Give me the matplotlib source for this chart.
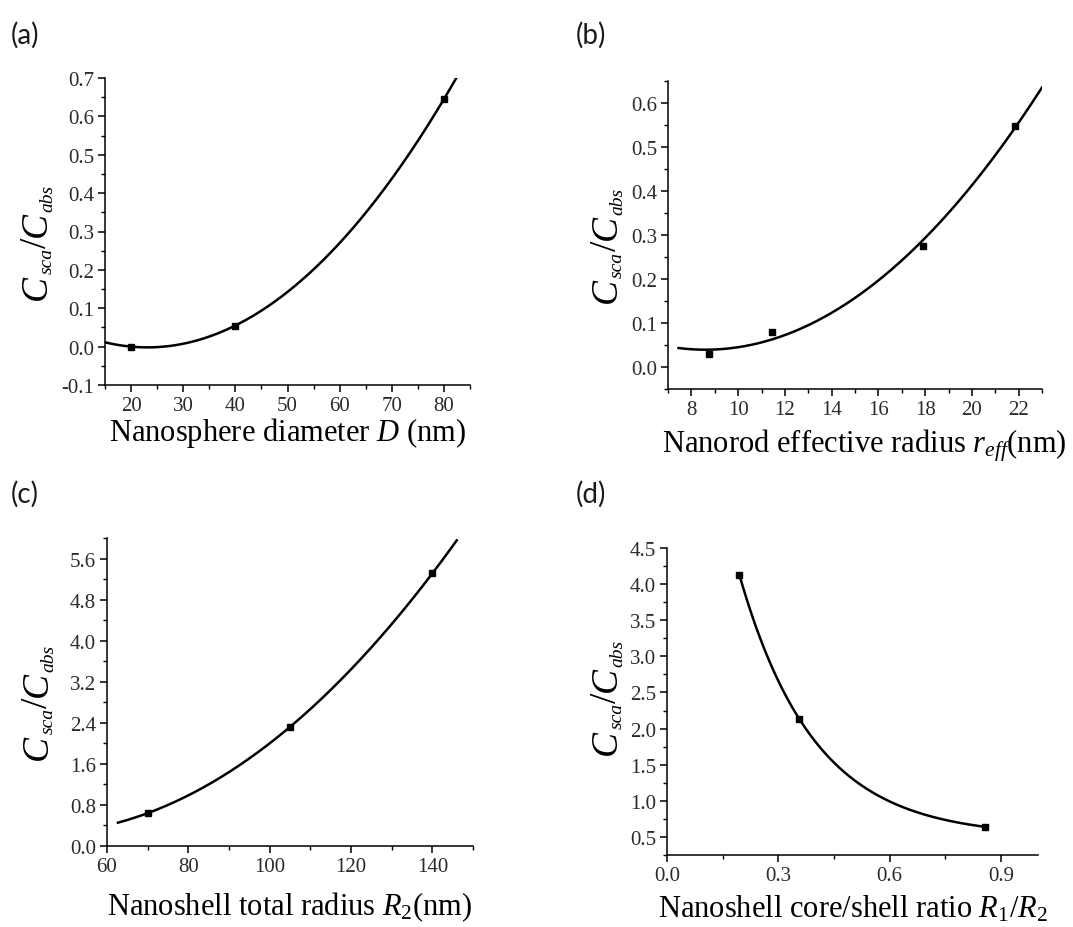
import matplotlib
matplotlib.use('Agg')
import matplotlib.pyplot as plt
import numpy as np
from matplotlib.ticker import MultipleLocator, FormatStrFormatter

plt.rcParams['font.family'] = 'Liberation Serif'
plt.rcParams['mathtext.fontset'] = 'custom'
plt.rcParams['mathtext.rm'] = 'Liberation Serif'
plt.rcParams['mathtext.it'] = 'Liberation Serif:italic'

W, H = 1073, 928

# (a) nanospheres
diam = [20, 40, 80]
ratio_a = [0.0, 0.055, 0.645]
fit_range_a = (15, 82.4)

# (b) nanorods
r_eff = [8.75, 11.43, 17.9, 21.83]
ratio_b = [0.030, 0.079, 0.275, 0.548]
fit_range_b = (7.45, 23.0)

# (c) nanoshells, total radius
r2 = [70, 105, 140]
ratio_c = [0.64, 2.32, 5.31]
fit_range_c = (62.7, 146.0)

# (d) nanoshells, core/shell ratio
core_shell = [0.195, 0.357, 0.857]
ratio_d = [4.13, 2.13, 0.64]
fit_range_d = (0.195, 0.857)


def exp_decay_fit(x, y):
    # y = y0 + A*exp(-x/t) through three points
    x = np.asarray(x, float)
    y = np.asarray(y, float)
    r = (y[0] - y[1]) / (y[1] - y[2])
    ts = np.logspace(-3, 1, 40000)
    e = np.exp(-x[:, None] / ts)
    f = (e[0] - e[1]) / (e[1] - e[2])
    t = ts[np.argmin(np.abs(f - r))]
    A = (y[0] - y[1]) / (np.exp(-x[0] / t) - np.exp(-x[1] / t))
    y0 = y[0] - A * np.exp(-x[0] / t)
    return lambda xx: y0 + A * np.exp(-xx / t)


def poly_fit(x, y):
    p = np.polyfit(x, y, 2)
    return lambda xx: np.polyval(p, xx)


fig = plt.figure(figsize=(W / 100, H / 100), dpi=100)
renderer = fig.canvas.get_renderer()


def text_width(s, size, style):
    t = fig.text(0, 0, s, fontsize=size, style=style)
    w = t.get_window_extent(renderer).width
    t.remove()
    return w


def csca_label(x_base, y_center, big=27, small=14, drop=6):
    # rotated C_sca/C_abs built from pieces; coords in pixels from top-left
    pieces = [('C', big, 'italic', 0), ('sca', small, 'italic', drop),
              ('/', big, 'normal', 0), ('C', big, 'italic', 0),
              ('abs', small, 'italic', drop)]
    widths = [text_width(s, sz, st) + 0.5 for s, sz, st, d in pieces]
    total = sum(widths)
    y = (H - y_center) - total / 2
    for (s, sz, st, d), w in zip(pieces, widths):
        fig.text((x_base + d) / W, y / H, s, fontsize=sz, style=st, rotation=90,
                 rotation_mode='anchor', ha='left', va='baseline')
        y += w


panels = [
    dict(box=(105, 79, 470, 386), x=diam, y=ratio_a, rng=fit_range_a, fit=poly_fit,
         xlim=(15, 85), ylim=(-0.1, 0.7), xmaj=10, xmin=5, ymaj=0.1, ymin=0.05,
         xlabel=r'Nanosphere diameter $D$ (nm)', xl_base=441, xl_dx=0,
         yl=(46, 242), tag='(a)', tagpos=(11, 35)),
    dict(box=(668, 82, 1042, 390), x=r_eff, y=ratio_b, rng=fit_range_b, fit=poly_fit,
         xlim=(7, 23), ylim=(-0.05, 0.65), xmaj=2, xmin=1, ymaj=0.1, ymin=0.05,
         xlabel=r'Nanorod effective radius $r_{eff}$(nm)', xl_base=453, xl_dx=9,
         yl=(616, 245), tag='(b)', tagpos=(576, 35)),
    dict(box=(107, 539, 473, 847), x=r2, y=ratio_c, rng=fit_range_c, fit=poly_fit,
         xlim=(60, 150), ylim=(0, 6.0), xmaj=20, xmin=10, ymaj=0.8, ymin=0.4,
         xlabel=r'Nanoshell total radius $R_2$(nm)', xl_base=915, xl_dx=0,
         yl=(47, 702), tag='(c)', tagpos=(11, 494)),
    dict(box=(667, 549, 1038, 856), x=core_shell, y=ratio_d, rng=fit_range_d, fit=exp_decay_fit,
         xlim=(0, 1.0), ylim=(0.25, 4.5), xmaj=0.3, xmin=0.15, ymaj=0.5, ymin=0.25,
         xlabel=r'Nanoshell core/shell ratio $R_1/R_2$', xl_base=918, xl_dx=0,
         yl=(616, 697), tag='(d)', tagpos=(576, 494)),
]

for p in panels:
    l, t, r, b = p['box']
    ax = fig.add_axes([l / W, 1 - b / H, (r - l) / W, (b - t) / H])
    f = p['fit'](p['x'], p['y'])
    xx = np.linspace(p['rng'][0], p['rng'][1], 300)
    ax.plot(xx, f(xx), color='black', lw=1.8)
    ax.plot(p['x'], p['y'], 's', color='black', ms=4.5)
    ax.set_xlim(*p['xlim'])
    ax.set_ylim(*p['ylim'])
    ax.xaxis.set_major_locator(MultipleLocator(p['xmaj']))
    ax.xaxis.set_minor_locator(MultipleLocator(p['xmin']))
    ax.yaxis.set_major_locator(MultipleLocator(p['ymaj']))
    ax.yaxis.set_minor_locator(MultipleLocator(p['ymin']))
    ax.yaxis.set_major_formatter(FormatStrFormatter('%.1f'))
    if p['xmaj'] < 1:
        ax.xaxis.set_major_formatter(FormatStrFormatter('%.1f'))
    for s in ['top', 'right']:
        ax.spines[s].set_visible(False)
    for s in ['left', 'bottom']:
        ax.spines[s].set_linewidth(1.1)
    ax.tick_params(which='major', direction='out', length=5, width=1.1,
                   labelsize=15, labelcolor='#2a2a2a', pad=3)
    ax.tick_params(which='minor', direction='out', length=3, width=1.0)

    ax.set_xlabel(p['xlabel'], fontsize=22, va='baseline')
    ax.xaxis.set_label_coords(0.5 + p['xl_dx'] / (r - l), -(p['xl_base'] - b) / (b - t))

    csca_label(*p['yl'])
    fig.text(p['tagpos'][0] / W, 1 - p['tagpos'][1] / H, p['tag'],
             fontsize=20, family='Lato', color='#1a1a1a', va='center', ha='left')

fig.savefig('out.png', dpi=100)
